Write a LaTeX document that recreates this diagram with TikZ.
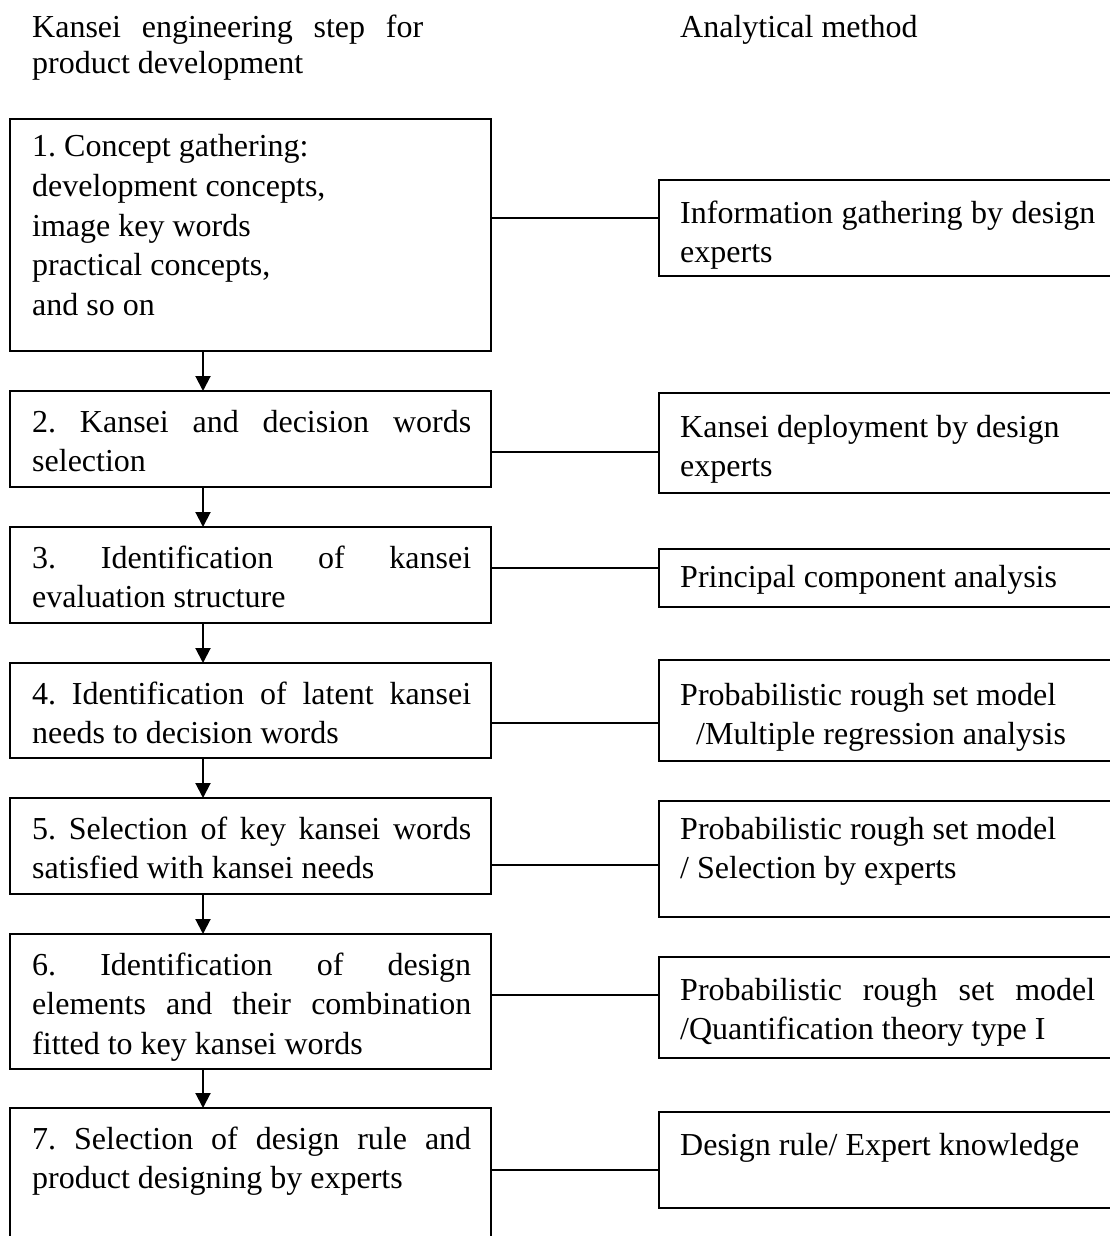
\documentclass[tikz,border=0pt]{standalone}
\usepackage{fontspec}
\setmainfont{Liberation Serif}
\usetikzlibrary{arrows.meta}
\newcommand{\jl}[2][439pt]{\makebox[#1][s]{\spaceskip=0pt\xspaceskip=0pt #2}}
\begin{document}
\begin{tikzpicture}[x=1pt,y=-1pt,
  box/.style={draw, line width=2pt, inner sep=0pt, outer sep=0pt},
  lbox/.style={box, minimum width=481pt},
  rbox/.style={box, minimum width=471pt},
  txt/.style={anchor=base west, inner sep=0pt, text width=#1,
    font=\fontsize{32}{39.5}\selectfont\frenchspacing,
    execute at begin node={\spaceskip=0pt\xspaceskip=0pt}},
  txt/.default=439pt,
  conn/.style={line width=2pt},
  arr/.style={line width=2pt, -{Triangle[width=15pt,length=15pt]}}]
\useasboundingbox (0,0) rectangle (1110,1236);
% headers
\node[txt=400pt] (h1) at (32,38) {\jl[391pt]{Kansei engineering step for}\\[-4pt]product development};
\node[txt=400pt] (h2) at (680,38) {Analytical method};
% left boxes
\node[lbox, minimum height=232pt] (b1) at (250.5,235) {};
\node[lbox, minimum height=96pt] (b2) at (250.5,439) {};
\node[lbox, minimum height=96pt] (b3) at (250.5,575) {};
\node[lbox, minimum height=95pt] (b4) at (250.5,710.5) {};
\node[lbox, minimum height=96pt] (b5) at (250.5,846) {};
\node[lbox, minimum height=135pt] (b6) at (250.5,1001.5) {};
\node[lbox, minimum height=162pt] (b7) at (250.5,1189) {};
% right boxes
\node[rbox, minimum height=96pt] (r1) at (894.5,228) {};
\node[rbox, minimum height=100pt] (r2) at (894.5,443) {};
\node[rbox, minimum height=58pt] (r3) at (894.5,578) {};
\node[rbox, minimum height=101pt] (r4) at (894.5,710.5) {};
\node[rbox, minimum height=116pt] (r5) at (894.5,859) {};
\node[rbox, minimum height=101pt] (r6) at (894.5,1007.5) {};
\node[rbox, minimum height=96pt] (r7) at (894.5,1160) {};
% left texts
\node[txt] (t1) at (32,157) {1. Concept gathering:\\development concepts,\\image key words\\practical concepts,\\and so on};
\node[txt] (t2) at (32,432) {\jl{2. Kansei and decision words}\\selection};
\node[txt] (t3) at (32,568) {\jl{3. Identification of kansei}\\evaluation structure};
\node[txt] (t4) at (32,704) {\jl{4. Identification of latent kansei}\\needs to decision words};
\node[txt] (t5) at (32,839) {\jl{5. Selection of key kansei words}\\satisfied with kansei needs};
\node[txt] (t6) at (32,975) {\jl{6. Identification of design}\\\jl{elements and their combination}\\fitted to key kansei words};
\node[txt] (t7) at (32,1149) {\jl{7. Selection of design rule and}\\product designing by experts};
% right texts
\node[txt=430pt] (u1) at (680,223) {\jl[415pt]{Information gathering by design}\\experts};
\node[txt=430pt] (u2) at (680,437) {Kansei deployment by design\\experts};
\node[txt=430pt] (u3) at (680,587) {Principal component analysis};
\node[txt=430pt] (u4) at (680,705) {Probabilistic rough set model\\\hspace*{16pt}/Multiple regression analysis};
\node[txt=430pt] (u5) at (680,839) {Probabilistic rough set model\\/ Selection by experts};
\node[txt=430pt] (u6) at (680,1000) {\jl[415pt]{Probabilistic rough set model}\\/Quantification theory type I};
\node[txt=430pt] (u7) at (680,1155) {Design rule/ Expert knowledge};
% connectors
\coordinate (c1) at (0,218);
\coordinate (c2) at (0,452);
\coordinate (c3) at (0,568);
\coordinate (c4) at (0,723);
\coordinate (c5) at (0,865);
\coordinate (c6) at (0,995);
\coordinate (c7) at (0,1170);
\draw[conn] (b1.east |- c1) -- (r1.west |- c1);
\draw[conn] (b2.east |- c2) -- (r2.west |- c2);
\draw[conn] (b3.east |- c3) -- (r3.west |- c3);
\draw[conn] (b4.east |- c4) -- (r4.west |- c4);
\draw[conn] (b5.east |- c5) -- (r5.west |- c5);
\draw[conn] (b6.east |- c6) -- (r6.west |- c6);
\draw[conn] (b7.east |- c7) -- (r7.west |- c7);
% arrows
\coordinate (ax) at (203,0);
\draw[arr] (ax |- b1.south) -- (ax |- b2.north);
\draw[arr] (ax |- b2.south) -- (ax |- b3.north);
\draw[arr] (ax |- b3.south) -- (ax |- b4.north);
\draw[arr] (ax |- b4.south) -- (ax |- b5.north);
\draw[arr] (ax |- b5.south) -- (ax |- b6.north);
\draw[arr] (ax |- b6.south) -- (ax |- b7.north);
\end{tikzpicture}
\end{document}
